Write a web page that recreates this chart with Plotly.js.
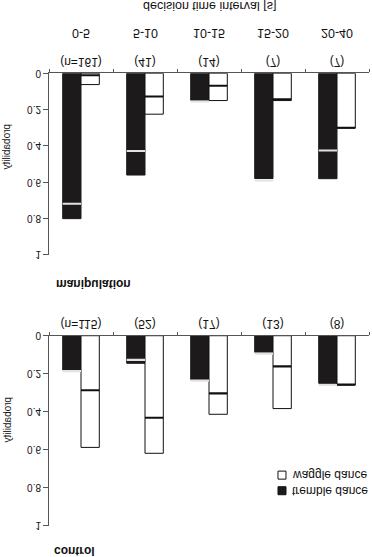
<!DOCTYPE html>
<html>
<head>
<meta charset="utf-8">
<script src="https://cdn.plot.ly/plotly-3.0.1.min.js"></script>
<style>
  html, body { margin: 0; padding: 0; background: #fff; overflow: hidden; }
  #chart { width: 372px; height: 557px; transform: scaleY(-1); transform-origin: 50% 50%; }
</style>
</head>
<body>
<div id="chart"></div>
<script>
// ---- data ----
const categories = ['0-5', '5-10', '10-15', '15-20', '20-40'];
const controlN = ['(n=115)', '(52)', '(17)', '(13)', '(8)'];
const manipN = ['(n=161)', '(41)', '(14)', '(7)', '(7)'];

const controlTremble = [0.18, 0.145, 0.23, 0.087, 0.25];
const controlTrembleMark = [0.186, 0.127, 0.236, 0.094, 0.259];
const controlWaggle = [0.587, 0.618, 0.413, 0.383, 0.259];
const controlWaggleMark = [0.287, 0.431, 0.303, 0.161, 0.257];

const manipTremble = [0.80, 0.56, 0.148, 0.579, 0.58];
const manipTrembleMark = [0.718, 0.427, 0.155, 0.59, 0.425];
const manipWaggle = [0.062, 0.225, 0.15, 0.15, 0.302];
const manipWaggleMark = [0.011, 0.128, 0.068, 0.143, 0.30];

const seriesNames = ['tremble dance', 'waggle dance'];
const panelNames = ['control', 'manipulation'];
const xTitle = 'decision time interval [s]';
const yTitle = 'probability';

// ---- styling ----
const FONT = 'Arial, "Liberation Sans", sans-serif';
const DARK = '#1c1a1a';
const AXIS = '#555555';
const MARK_T = 0.011;

function barTrace(y, xa, ya, fill, group, name) {
  return {
    type: 'bar', x: categories, y: y, xaxis: xa, yaxis: ya,
    offsetgroup: group, name: name, showlegend: false,
    marker: { color: fill, line: { color: fill === '#ffffff' ? '#111' : DARK, width: 1 } }
  };
}
function markTrace(vals, xa, ya, color, group) {
  return {
    type: 'bar', x: categories, y: vals.map(() => MARK_T), base: vals.map(v => v - MARK_T / 2),
    xaxis: xa, yaxis: ya, offsetgroup: group, showlegend: false,
    marker: { color: color, line: { width: 0 } }
  };
}

const data = [
  barTrace(controlTremble, 'x', 'y', DARK, 'T', seriesNames[0]),
  barTrace(controlWaggle, 'x', 'y', '#ffffff', 'W', seriesNames[1]),
  markTrace(controlTrembleMark, 'x', 'y', '#e2e2e2', 'T'),
  markTrace(controlWaggleMark, 'x', 'y', '#111111', 'W'),
  barTrace(manipTremble, 'x2', 'y2', DARK, 'T', seriesNames[0]),
  barTrace(manipWaggle, 'x2', 'y2', '#ffffff', 'W', seriesNames[1]),
  markTrace(manipTrembleMark, 'x2', 'y2', '#e2e2e2', 'T'),
  markTrace(manipWaggleMark, 'x2', 'y2', '#111111', 'W')
];

function xAxis(ticks, anchor) {
  return {
    type: 'category', anchor: anchor, domain: [0, 1], range: [-0.5, 4.5],
    showline: true, linecolor: AXIS, linewidth: 1,
    ticks: 'outside', tickson: 'boundaries', ticklen: 3, tickcolor: AXIS,
    tickvals: categories, ticktext: ticks,
    tickfont: { family: FONT, size: 12, color: '#111' },
    showgrid: false, zeroline: false, fixedrange: true
  };
}
function yAxis(domain, anchor) {
  return {
    anchor: anchor, domain: domain, range: [0, 1], dtick: 0.2, tick0: 0,
    showline: true, linecolor: AXIS, linewidth: 1,
    ticks: 'outside', ticklen: 5, tickcolor: AXIS,
    tickfont: { family: FONT, size: 10, color: '#111' },
    showgrid: false, zeroline: false, fixedrange: true
  };
}

// legend (key) rows: tremble on top, waggle below
const legendRows = [0.881, 0.853];
const legendFills = [DARK, '#ffffff'];

const annotations = [
  { text: '<b>' + panelNames[0] + '</b>', xref: 'paper', yref: 'paper', x: 0.009, y: 0.989, xanchor: 'left', yanchor: 'middle', showarrow: false, font: { family: FONT, size: 12, color: '#111' } },
  { text: '<b>' + panelNames[1] + '</b>', xref: 'paper', yref: 'paper', x: 0.016, y: 0.51, xanchor: 'left', yanchor: 'middle', showarrow: false, font: { family: FONT, size: 12, color: '#111' } },
  { text: yTitle, xref: 'paper', yref: 'paper', x: -0.131, y: 0.754, xanchor: 'center', yanchor: 'middle', textangle: -90, showarrow: false, font: { family: FONT, size: 10, color: '#111' } },
  { text: yTitle, xref: 'paper', yref: 'paper', x: -0.131, y: 0.264, xanchor: 'center', yanchor: 'middle', textangle: -90, showarrow: false, font: { family: FONT, size: 10, color: '#111' } },
  { text: xTitle, xref: 'paper', yref: 'paper', x: 0.5, y: 0.0102, xanchor: 'center', yanchor: 'middle', showarrow: false, font: { family: FONT, size: 12.5, color: '#111' } }
].concat(categories.map(c => ({
  text: c, xref: 'x2', yref: 'paper', x: c, y: 0.0598, xanchor: 'center', yanchor: 'middle', showarrow: false,
  font: { family: FONT, size: 12.5, color: '#111' }
}))).concat(seriesNames.map((n, i) => ({
  text: n, xref: 'paper', yref: 'paper', x: 0.7525, y: legendRows[i], xanchor: 'left', yanchor: 'middle', showarrow: false,
  font: { family: FONT, size: 12, color: '#111' }
})));

const shapes = seriesNames.map((n, i) => ({
  type: 'rect', xref: 'paper', yref: 'paper',
  x0: 0.7156, x1: 0.7406, y0: legendRows[i] - 0.0072, y1: legendRows[i] + 0.0072,
  fillcolor: legendFills[i], line: { color: '#111', width: 1 }
}));

const layout = {
  width: 372, height: 557,
  margin: { l: 49, r: 3, t: 0, b: 0, pad: 0 },
  paper_bgcolor: '#ffffff', plot_bgcolor: '#ffffff',
  barmode: 'group', bargap: 0.428, bargroupgap: 0,
  font: { family: FONT, size: 12, color: '#111' },
  xaxis: xAxis(controlN, 'y'),
  yaxis: yAxis([0.6027, 0.9443], 'x'),
  xaxis2: xAxis(manipN, 'y2'),
  yaxis2: yAxis([0.1316, 0.4578], 'x2'),
  showlegend: false,
  annotations: annotations,
  shapes: shapes
};

Plotly.newPlot('chart', data, layout, { staticPlot: true, displayModeBar: false });
</script>
</body>
</html>
